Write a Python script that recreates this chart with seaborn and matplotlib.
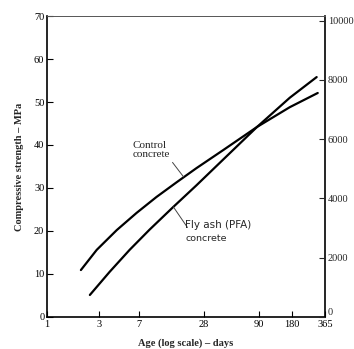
import matplotlib
matplotlib.use("Agg")
import pandas as pd
import seaborn as sns
import matplotlib.pyplot as plt

# values (age in days, strength in MPa)
age_control = [2.05, 2.87, 4.39, 6.69, 10.2, 15.6, 23.8, 42.0, 86.3, 173.0, 313.0]
strength_control = [10.9, 15.6, 20.2, 24.2, 27.9, 31.3, 34.6, 38.8, 44.2, 48.8, 52.1]
age_flyash = [2.48, 3.78, 5.77, 8.81, 14.6, 23.8, 42.0, 86.3, 173.0, 306.0]
strength_flyash = [5.1, 10.5, 15.6, 20.3, 25.6, 30.6, 36.6, 44.2, 51.0, 55.8]

age_ticks = [1, 3, 7, 28, 90, 180, 365]
mpa_ticks = [0, 10, 20, 30, 40, 50, 60, 70]
psi_ticks = [0, 2000, 4000, 6000, 8000, 10000]
PSI_PER_MPA = 145.04

df = pd.concat([
    pd.DataFrame({"age": age_control, "strength": strength_control, "mix": "control"}),
    pd.DataFrame({"age": age_flyash, "strength": strength_flyash, "mix": "flyash"}),
])

sns.set_theme(style="ticks")
plt.rcParams["font.family"] = ["Liberation Serif", "DejaVu Serif"]

fig = plt.figure(figsize=(3.54, 3.49), dpi=100)
ax = fig.add_axes([0.133, 0.092, 0.785, 0.862])

sns.lineplot(data=df, x="age", y="strength", units="mix", estimator=None,
             color="black", linewidth=1.6, ax=ax, legend=False)

ax.set_xscale("log")
ax.set_xlim(1, 365)
ax.set_ylim(0, 70)
ax.set_xticks(age_ticks)
ax.set_xticklabels([str(t) for t in age_ticks])
ax.minorticks_off()
ax.set_yticks(mpa_ticks)
ax.tick_params(direction="in", length=4, width=0.8, labelsize=7.5, pad=2, colors="black")
ax.set_xlabel("Age (log scale) \u2013 days", fontsize=7.5, fontweight="bold", labelpad=7)
ax.set_ylabel("Compressive strength \u2013 MPa", fontsize=7.5, fontweight="bold", labelpad=7)

for side in ["left", "bottom", "right"]:
    ax.spines[side].set_linewidth(1.2)
    ax.spines[side].set_color("black")
ax.spines["top"].set_linewidth(0.7)
ax.spines["top"].set_color("#555555")

ax2 = ax.twinx()
ax2.set_ylim(0, 70 * PSI_PER_MPA)
ax2.set_yticks(psi_ticks)
ax2.tick_params(direction="in", length=4, width=0.8, labelsize=7.5, pad=2)
for s in ax2.spines.values():
    s.set_visible(False)
# the right-hand zero sits just above the "365" label
ax2.get_yticklabels()[0].set_verticalalignment("bottom")

ax.annotate("Control\nconcrete", xy=(18.1, 32.6), xytext=(6.15, 38.8),
            fontsize=8, ha="left", va="center", linespacing=1.0,
            arrowprops=dict(arrowstyle="-", color="#444444", lw=0.7,
                            shrinkA=0, shrinkB=0, relpos=(1.0, 0.0)))
ax.annotate("", xy=(14.6, 25.6), xytext=(19.7, 20.8),
            arrowprops=dict(arrowstyle="-", color="#444444", lw=0.7,
                            shrinkA=0, shrinkB=0))
ax.text(18.8, 21.4, "Fly ash (PFA)", fontsize=7.5, ha="left", va="center",
        family=["DejaVu Sans"])
ax.text(18.8, 18.3, "concrete", fontsize=6.8, ha="left", va="center",
        family=["DejaVu Sans"])

fig.savefig("out.png", dpi=100)
